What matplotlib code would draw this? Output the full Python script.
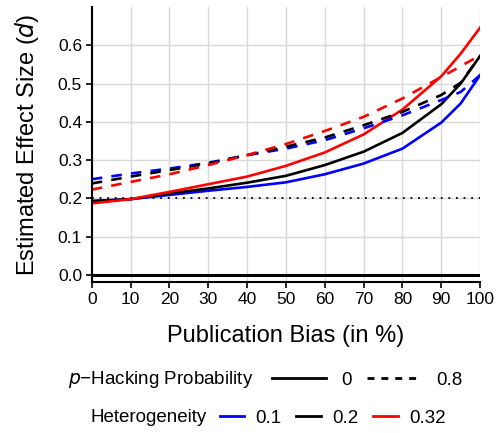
import matplotlib
matplotlib.use("Agg")
import matplotlib.pyplot as plt
from matplotlib.lines import Line2D

plt.rcParams['font.family'] = ['Liberation Sans', 'DejaVu Sans']

pub_bias = [0, 10, 20, 30, 40, 50, 60, 70, 80, 90, 95, 100]

# p-hacking = 0 (solid)
het01_p0 = [0.193, 0.198, 0.209, 0.220, 0.230, 0.242, 0.263, 0.291, 0.330, 0.398, 0.448, 0.522]
het02_p0 = [0.193, 0.198, 0.213, 0.226, 0.241, 0.259, 0.287, 0.322, 0.371, 0.446, 0.500, 0.572]
het032_p0 = [0.187, 0.198, 0.217, 0.237, 0.257, 0.285, 0.320, 0.367, 0.432, 0.519, 0.578, 0.646]
# p-hacking = 0.8 (dashed)
het01_p8 = [0.250, 0.265, 0.278, 0.293, 0.313, 0.330, 0.352, 0.383, 0.417, 0.457, 0.478, 0.522]
het02_p8 = [0.239, 0.257, 0.274, 0.291, 0.313, 0.335, 0.359, 0.391, 0.426, 0.470, 0.502, 0.572]
het032_p8 = [0.223, 0.243, 0.263, 0.287, 0.313, 0.342, 0.376, 0.413, 0.461, 0.517, 0.545, 0.574]

true_effect = 0.2
x_ticks = [0, 10, 20, 30, 40, 50, 60, 70, 80, 90, 100]
y_ticks = [0.0, 0.1, 0.2, 0.3, 0.4, 0.5, 0.6]

fig = plt.figure(figsize=(4.96, 4.33), dpi=100)
ax = fig.add_axes([0.185, 0.349, 0.783, 0.635])

ax.set_xlim(0, 100)
ax.set_ylim(-0.018, 0.70)
ax.set_xticks(x_ticks)
ax.set_yticks(y_ticks)
ax.set_yticklabels([f"{v:.1f}" for v in y_ticks])
ax.grid(True, color='#d9d9d9', lw=1.0)
ax.set_axisbelow(True)
for s in ['top', 'right']:
    ax.spines[s].set_visible(False)
for s in ['left', 'bottom']:
    ax.spines[s].set_linewidth(1.5)
ax.tick_params(direction='out', length=4, width=1.2, labelsize=12.5, colors='black', pad=3)

ax.axhline(0, color='black', lw=2.2)
ax.axhline(true_effect, color='black', lw=1.3, ls=(0, (1, 3.2)))

lw = 1.9
ax.plot(pub_bias, het01_p0, color='#0000ff', lw=lw)
ax.plot(pub_bias, het02_p0, color='black', lw=lw)
ax.plot(pub_bias, het032_p0, color='#ff0000', lw=lw)
ax.plot(pub_bias, het01_p8, color='#0000ff', lw=lw, ls=(0, (4, 3.5)))
ax.plot(pub_bias, het02_p8, color='black', lw=lw, ls=(0, (4, 3.5)))
ax.plot(pub_bias, het032_p8, color='#ff0000', lw=lw, ls=(0, (4, 3.5)))

ax.set_xlabel("Publication Bias (in %)", fontsize=17, labelpad=13)
ax.set_ylabel("Estimated Effect Size ($d$)", fontsize=17, labelpad=12)

# Legends
fs = 13.5
fig.text(253/496, 1 - 380/433, "$p$−Hacking Probability", ha='right', va='center', fontsize=fs)
h1 = [Line2D([], [], color='black', lw=2), Line2D([], [], color='black', lw=2, ls=(0, (2.5, 2.5)))]
fig.legend(h1, ['0', '0.8'], loc='center left', bbox_to_anchor=(266/496, 1 - 380/433), ncol=2,
           frameon=False, fontsize=fs, handlelength=2.9, handletextpad=0.8, columnspacing=0.8, borderaxespad=0, borderpad=0.3)

fig.text(207/496, 1 - 418/433, "Heterogeneity", ha='right', va='center', fontsize=fs)
h2 = [Line2D([], [], color='#0000ff', lw=2), Line2D([], [], color='black', lw=2), Line2D([], [], color='#ff0000', lw=2)]
fig.legend(h2, ['0.1', '0.2', '0.32'], loc='center left', bbox_to_anchor=(214/496, 1 - 418/433), ncol=3,
           frameon=False, fontsize=fs, handlelength=1.3, handletextpad=0.6, columnspacing=0.8, borderaxespad=0, borderpad=0.3)

fig.savefig("out.png", dpi=100)
